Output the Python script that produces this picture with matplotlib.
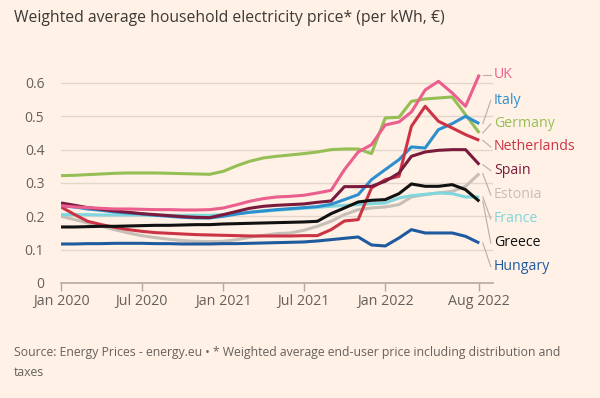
import matplotlib
matplotlib.use("Agg")
import matplotlib.pyplot as plt
import matplotlib.dates as mdates
import pandas as pd
import numpy as np

months = pd.date_range("2020-01-01", "2022-08-01", freq="MS")

uk = [0.232, 0.228, 0.226, 0.224, 0.222, 0.222, 0.221, 0.220, 0.220, 0.219, 0.219, 0.220,
      0.225, 0.235, 0.245, 0.253, 0.258, 0.260, 0.263, 0.270, 0.278, 0.340, 0.393, 0.415,
      0.474, 0.483, 0.513, 0.579, 0.605, 0.570, 0.530, 0.625]
italy = [0.232, 0.228, 0.222, 0.218, 0.213, 0.210, 0.207, 0.203, 0.200, 0.197, 0.195, 0.195,
         0.200, 0.207, 0.212, 0.216, 0.220, 0.223, 0.226, 0.229, 0.236, 0.250, 0.265, 0.310,
         0.340, 0.370, 0.408, 0.405, 0.460, 0.478, 0.500, 0.478]
germany = [0.322, 0.323, 0.325, 0.327, 0.329, 0.330, 0.330, 0.330, 0.329, 0.328, 0.327, 0.326,
           0.335, 0.352, 0.365, 0.375, 0.380, 0.384, 0.388, 0.393, 0.400, 0.402, 0.402, 0.388,
           0.495, 0.497, 0.545, 0.552, 0.555, 0.558, 0.505, 0.450]
netherlands = [0.228, 0.205, 0.185, 0.175, 0.167, 0.160, 0.155, 0.151, 0.149, 0.147, 0.145, 0.144,
               0.143, 0.142, 0.141, 0.141, 0.141, 0.141, 0.142, 0.142, 0.160, 0.186, 0.190, 0.285,
               0.310, 0.320, 0.470, 0.530, 0.485, 0.465, 0.445, 0.428]
spain = [0.240, 0.233, 0.226, 0.221, 0.216, 0.212, 0.208, 0.205, 0.202, 0.199, 0.197, 0.196,
         0.205, 0.215, 0.224, 0.230, 0.233, 0.235, 0.237, 0.242, 0.246, 0.289, 0.289, 0.290,
         0.305, 0.330, 0.380, 0.393, 0.398, 0.400, 0.400, 0.355]
estonia = [0.200, 0.190, 0.180, 0.170, 0.160, 0.150, 0.142, 0.136, 0.131, 0.127, 0.125, 0.124,
           0.125, 0.130, 0.137, 0.143, 0.148, 0.150, 0.158, 0.170, 0.185, 0.205, 0.220, 0.225,
           0.228, 0.235, 0.258, 0.265, 0.270, 0.275, 0.290, 0.328]
france = [0.205, 0.205, 0.205, 0.204, 0.204, 0.204, 0.204, 0.203, 0.203, 0.203, 0.203, 0.203,
          0.205, 0.208, 0.212, 0.215, 0.218, 0.221, 0.224, 0.227, 0.230, 0.233, 0.235, 0.238,
          0.240, 0.255, 0.262, 0.266, 0.270, 0.268, 0.258, 0.258]
greece = [0.168, 0.168, 0.169, 0.170, 0.170, 0.171, 0.172, 0.173, 0.173, 0.174, 0.175, 0.175,
          0.177, 0.178, 0.179, 0.180, 0.181, 0.182, 0.183, 0.185, 0.208, 0.225, 0.243, 0.248,
          0.250, 0.268, 0.297, 0.290, 0.290, 0.295, 0.280, 0.245]
hungary = [0.117, 0.117, 0.118, 0.118, 0.119, 0.119, 0.119, 0.118, 0.118, 0.117, 0.117, 0.117,
           0.118, 0.118, 0.119, 0.120, 0.121, 0.122, 0.123, 0.126, 0.130, 0.134, 0.138, 0.114,
           0.111, 0.135, 0.160, 0.150, 0.150, 0.150, 0.140, 0.120]

countries = ["UK", "Italy", "Germany", "Netherlands", "Spain", "Estonia", "France", "Greece", "Hungary"]
series = [uk, italy, germany, netherlands, spain, estonia, france, greece, hungary]
colors = ["#ea5f8e", "#2e8fcf", "#95bf55", "#cc3446", "#7a1a3c", "#c6beb7", "#80d6dc", "#111111", "#1f5a9e"]
label_y = [0.625, 0.548, 0.477, 0.408, 0.337, 0.264, 0.192, 0.120, 0.049]
draw_order = ["Estonia", "France", "Hungary", "Germany", "Italy", "Netherlands", "Spain", "UK", "Greece"]

yticks = [0, 0.1, 0.2, 0.3, 0.4, 0.5, 0.6]
ytick_labels = ["0", "0.1", "0.2", "0.3", "0.4", "0.5", "0.6"]
xtick_dates = pd.to_datetime(["2020-01-01", "2020-07-01", "2021-01-01", "2021-07-01", "2022-01-01", "2022-08-01"])
xtick_labels = ["Jan 2020", "Jul 2020", "Jan 2021", "Jul 2021", "Jan 2022", "Aug 2022"]

BG = "#fff1e5"
FONT = ["Open Sans", "DejaVu Sans"]
plt.rcParams["font.family"] = FONT

fig = plt.figure(figsize=(6.0, 3.98), dpi=100, facecolor=BG)
ax = fig.add_axes([0.1017, 0.289, 0.72, 0.5528])
ax.set_facecolor(BG)
ax.set_ylim(0, 0.66)
ax.set_xlim(pd.Timestamp("2020-01-01"), pd.Timestamp("2022-09-01"))

for v in yticks[1:]:
    ax.axhline(v, color="#e3d6cb", lw=1, zorder=0)

for name in draw_order:
    i = countries.index(name)
    ax.plot(months, series[i], color=colors[i], lw=2.2, solid_capstyle="butt",
            solid_joinstyle="round", zorder=2)

# labels with leader lines
end = months[-1]
x0 = mdates.date2num(end) + 8
x1 = mdates.date2num(end) + 26
xt = mdates.date2num(end) + 33
for i, name in enumerate(countries):
    yv = series[i][-1]
    ax.plot([x0, x1], [yv, label_y[i]], color="#b8aea6", lw=0.8, clip_on=False, zorder=1)
    ax.text(xt, label_y[i], name, color=colors[i], fontsize=10.2, va="center", ha="left",
            clip_on=False)

for s in ["top", "right", "left"]:
    ax.spines[s].set_visible(False)
ax.spines["bottom"].set_color("#b3a9a0")
ax.spines["bottom"].set_linewidth(1.2)

ax.set_yticks(yticks)
ax.set_yticklabels(ytick_labels)
ax.set_xticks(xtick_dates)
ax.set_xticklabels(xtick_labels)
ax.tick_params(axis="y", length=0, pad=12, labelsize=10, labelcolor="#66605c")
ax.tick_params(axis="x", length=6, width=1, color="#b3a9a0", pad=2, labelsize=10.3, labelcolor="#66605c")

fig.text(0.023, 0.955, "Weighted average household electricity price* (per kWh, €)",
         fontsize=11.3, color="#3d3935", va="center", ha="left")
fig.text(0.023, 0.115, "Source: Energy Prices - energy.eu • * Weighted average end-user price including distribution and",
         fontsize=8.8, color="#66605c", va="center", ha="left")
fig.text(0.023, 0.063, "taxes", fontsize=8.8, color="#66605c", va="center", ha="left")

fig.savefig("out.png", dpi=100, facecolor=BG)
